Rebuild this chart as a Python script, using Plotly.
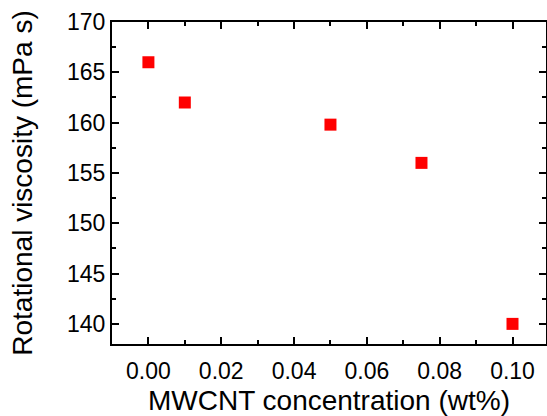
import plotly.graph_objects as go

conc = [0.0, 0.01, 0.05, 0.075, 0.10]
viscosity = [166.0, 162.0, 159.8, 156.0, 140.0]

x_title = "MWCNT concentration (wt%)"
y_title = "Rotational viscosity (mPa s)"

fig = go.Figure()
fig.add_trace(go.Scatter(
    x=conc, y=viscosity, mode="markers",
    marker=dict(symbol="square", size=12, color="#ff0000", line=dict(width=0)),
    showlegend=False,
))

axis_common = dict(
    showline=True, linecolor="black", linewidth=2, mirror="allticks",
    ticks="inside", ticklen=7, tickwidth=2, tickcolor="black",
    showgrid=False, zeroline=False, automargin=False, layer="above traces",
    tickfont=dict(family="Liberation Sans, Arial", size=23, color="black"),
)

fig.update_xaxes(
    range=[-0.01, 0.1092], dtick=0.02, tick0=0, tickformat=".2f",
    ticklabelstandoff=5,
    minor=dict(ticks="inside", ticklen=4, tickwidth=2, tickcolor="black", dtick=0.01),
    title=dict(text=x_title, font=dict(family="Liberation Sans, Arial", size=28, color="black"), standoff=14),
    **axis_common,
)
fig.update_yaxes(
    range=[138, 170], dtick=5, tick0=140,
    ticklabelstandoff=0,
    minor=dict(ticks="inside", ticklen=4, tickwidth=2, tickcolor="black", dtick=2.5),
    title=dict(text=y_title, font=dict(family="Liberation Sans, Arial", size=28, color="black"), standoff=26),
    **axis_common,
)

fig.update_layout(
    width=547, height=416,
    margin=dict(l=112, r=1, t=22, b=72),
    plot_bgcolor="white", paper_bgcolor="white",
)

fig.write_html("out.html", config={"displayModeBar": False},
               post_script="document.body.style.margin='0';document.body.style.overflow='hidden';")
